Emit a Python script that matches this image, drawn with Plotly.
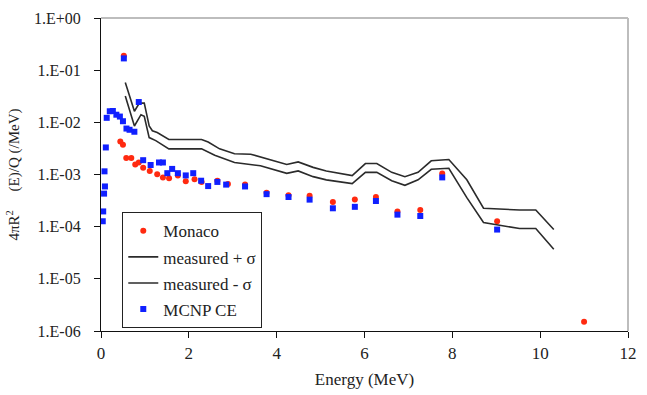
import plotly.graph_objects as go

# Monaco calculation
monaco_e = [0.44, 0.50, 0.52, 0.575, 0.69, 0.78, 0.86, 0.96, 1.11, 1.28, 1.41, 1.55,
            1.75, 1.93, 2.13, 2.29, 2.65, 2.89, 3.28, 3.77, 4.27, 4.75, 5.28, 5.78,
            6.26, 6.75, 7.27, 7.77, 9.02, 11.0]
monaco_y = [4.3e-3, 3.7e-3, 1.9e-1, 2.08e-3, 2.08e-3, 1.56e-3, 1.70e-3, 1.35e-3, 1.17e-3,
            1.01e-3, 8.8e-4, 8.5e-4, 9.6e-4, 7.4e-4, 8.1e-4, 7.2e-4, 7.6e-4, 6.6e-4,
            6.4e-4, 4.45e-4, 4.0e-4, 3.9e-4, 2.98e-4, 3.3e-4, 3.7e-4, 1.95e-4, 2.08e-4,
            1.05e-3, 1.27e-4, 1.5e-6]

# MCNP CE calculation
mcnp_e = [0.04, 0.05, 0.07, 0.09, 0.08, 0.11, 0.13, 0.20, 0.27, 0.35, 0.43, 0.50, 0.52,
          0.58, 0.65, 0.76, 0.86, 0.96, 1.13, 1.32, 1.41, 1.51, 1.62, 1.75, 1.93, 2.10,
          2.28, 2.44, 2.65, 2.85, 3.28, 3.77, 4.27, 4.75, 5.28, 5.78, 6.26, 6.75, 7.27,
          7.77, 9.02]
mcnp_y = [1.27e-4, 1.96e-4, 4.3e-4, 5.9e-4, 1.15e-3, 3.3e-3, 1.22e-2, 1.63e-2, 1.65e-2,
          1.4e-2, 1.29e-2, 1.05e-2, 1.68e-1, 7.6e-3, 7.2e-3, 6.6e-3, 2.45e-2, 1.88e-3,
          1.52e-3, 1.7e-3, 1.7e-3, 1.06e-3, 1.28e-3, 1.06e-3, 9.6e-4, 1.06e-3, 7.6e-4,
          6.0e-4, 7.2e-4, 6.4e-4, 5.9e-4, 4.2e-4, 3.7e-4, 3.3e-4, 2.25e-4, 2.4e-4,
          3.1e-4, 1.7e-4, 1.6e-4, 8.8e-4, 8.8e-5]

# Measured spectrum + sigma
plus_e = [0.553, 0.761, 0.873, 0.985, 1.097, 1.17, 1.28, 1.545, 2.29, 2.44, 2.70, 3.04,
          3.41, 3.71, 4.23, 4.49, 4.83, 5.13, 5.72, 6.02, 6.28, 6.62, 6.92, 7.22, 7.52,
          7.92, 8.33, 8.71, 9.53, 9.90, 10.31]
plus_y = [5.8e-2, 1.63e-2, 2.33e-2, 2.33e-2, 8.5e-3, 6.9e-3, 6.4e-3, 4.7e-3, 4.7e-3,
          4.2e-3, 3.1e-3, 2.5e-3, 2.45e-3, 2.1e-3, 1.56e-3, 1.74e-3, 1.37e-3, 1.17e-3,
          9.5e-4, 1.62e-3, 1.62e-3, 1.1e-3, 9.1e-4, 1.1e-3, 1.83e-3, 1.94e-3, 7.9e-4,
          2.26e-4, 2.08e-4, 2.08e-4, 8.8e-5]

# Measured spectrum - sigma
minus_e = [0.553, 0.761, 0.91, 0.985, 1.097, 1.247, 1.545, 2.29, 2.59, 3.04, 3.63, 4.23,
           4.49, 4.83, 5.13, 5.72, 6.02, 6.28, 6.62, 6.92, 7.22, 7.52, 7.92, 8.33, 8.71,
           9.53, 9.90, 10.31]
minus_y = [3.2e-2, 8.5e-3, 1.4e-2, 1.3e-2, 5.1e-3, 4.46e-3, 3.1e-3, 3.1e-3, 2.33e-3,
           1.7e-3, 1.47e-3, 1.05e-3, 1.17e-3, 9.1e-4, 7.9e-4, 6.7e-4, 1.1e-3, 1.1e-3,
           7.6e-4, 6.2e-4, 7.9e-4, 1.26e-3, 1.32e-3, 3.6e-4, 1.2e-4, 9.2e-5, 9.2e-5, 3.7e-5]

x_ticks = [0, 2, 4, 6, 8, 10, 12]
y_tickvals = [1e0, 1e-1, 1e-2, 1e-3, 1e-4, 1e-5, 1e-6]
y_ticktext = ["1.E+00", "1.E-01", "1.E-02", "1.E-03", "1.E-04", "1.E-05", "1.E-06"]

serif = "'Liberation Serif', 'Times New Roman', Tinos, 'DejaVu Serif', serif"
line_col = "#2b2b2b"
txt_col = "#222222"

fig = go.Figure()
fig.add_trace(go.Scatter(x=monaco_e, y=monaco_y, mode="markers", name="Monaco",
                         legendgroup="a",
                         marker=dict(symbol="circle", size=6, color="#ff2a10")))
fig.add_trace(go.Scatter(x=plus_e, y=plus_y, mode="lines", name="measured + σ",
                         legendgroup="b",
                         line=dict(color=line_col, width=1.6)))
fig.add_trace(go.Scatter(x=minus_e, y=minus_y, mode="lines", name="measured - σ",
                         legendgroup="c",
                         line=dict(color=line_col, width=1.6)))
fig.add_trace(go.Scatter(x=mcnp_e, y=mcnp_y, mode="markers", name="MCNP CE",
                         legendgroup="d",
                         marker=dict(symbol="square", size=6, color="#1020ff")))

fig.update_layout(
    width=647, height=395,
    margin=dict(l=101, r=10, t=13, b=62),
    paper_bgcolor="white", plot_bgcolor="white",
    font=dict(family=serif, size=16, color=txt_col),
    showlegend=True,
    legend=dict(x=0.04, y=0.38, xanchor="left", yanchor="top",
                bgcolor="white", bordercolor="#222", borderwidth=1.2,
                font=dict(family=serif, size=17, color=txt_col),
                tracegroupgap=1, itemwidth=30),
    xaxis=dict(range=[0, 12], tickvals=x_ticks, showgrid=False, zeroline=False,
               showline=True, linecolor="#111", linewidth=1.2,
               ticks="outside", ticklen=6, tickcolor="#111",
               tickfont=dict(family=serif, size=17, color=txt_col),
               title=dict(text="Energy (MeV)", standoff=11,
                          font=dict(family=serif, size=17, color=txt_col))),
    yaxis=dict(type="log", range=[-6, 0], tickvals=y_tickvals, ticktext=y_ticktext,
               showgrid=False, zeroline=False,
               showline=True, linecolor="#111", linewidth=1.2,
               ticks="outside", ticklen=6, tickcolor="#111",
               ticklabelstandoff=10,
               tickfont=dict(family=serif, size=16, color=txt_col),
               title=dict(text="4πR<sup>2</sup>" + "\u00a0" * 5 + "(E)/Q (/MeV)", standoff=10,
                          font=dict(family=serif, size=15, color=txt_col))),
    shapes=[
        dict(type="line", xref="paper", yref="paper", x0=0, x1=1, y0=1, y1=1,
             line=dict(color="#bdbdbd", width=2)),
        dict(type="line", xref="paper", yref="paper", x0=1, x1=1, y0=0, y1=1,
             line=dict(color="#bdbdbd", width=2)),
    ],
)

fig.write_html("out.html")
